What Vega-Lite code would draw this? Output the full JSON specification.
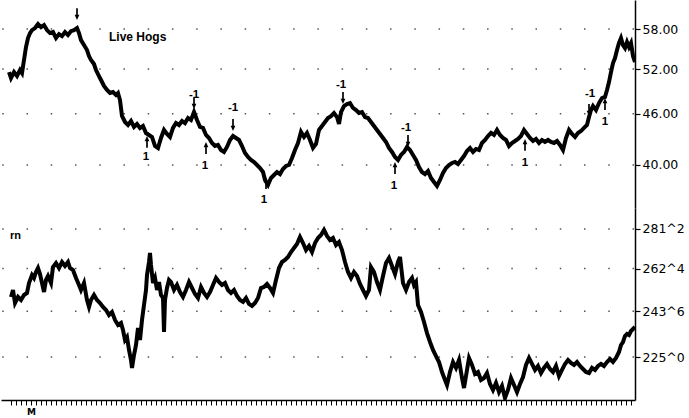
{
"$schema": "https://vega.github.io/schema/vega-lite/v6.json",
"padding": 0,
"background": "white",
"spacing": 0,
"config": {"view": {"stroke": null}, "font": "DejaVu Sans", "concat": {"spacing": 0}},
"datasets": {
"hogs": [
{"t":8,"v":51.57},{"t":10,"v":50.73},{"t":13,"v":51.57},{"t":16,"v":51.01},{"t":19,"v":51.85},{"t":21,"v":51.43},{"t":23,"v":53.29},{"t":25,"v":55.22},{"t":27,"v":56.59},{"t":29,"v":57.37},{"t":31,"v":57.84},{"t":34,"v":58.16},{"t":37,"v":58.8},{"t":40,"v":58.32},{"t":43,"v":58.64},{"t":46,"v":57.84},{"t":49,"v":57.37},{"t":52,"v":57.53},{"t":55,"v":56.59},{"t":58,"v":57.21},{"t":61,"v":56.9},{"t":64,"v":57.53},{"t":67,"v":57.06},{"t":70,"v":57.68},{"t":73,"v":57.84},{"t":76,"v":58.16},{"t":78,"v":57.37},{"t":80,"v":56.28},{"t":83,"v":55.52},{"t":86,"v":54.77},{"t":88,"v":53.88},{"t":90,"v":53.29},{"t":93,"v":52.71},{"t":95,"v":51.85},{"t":98,"v":51.01},{"t":100,"v":50.46},{"t":103,"v":49.64},{"t":106,"v":49.1},{"t":109,"v":48.7},{"t":112,"v":48.83},{"t":115,"v":48.43},{"t":117,"v":48.7},{"t":119,"v":47.77},{"t":121,"v":45.73},{"t":124,"v":44.99},{"t":127,"v":44.62},{"t":130,"v":45.11},{"t":133,"v":44.38},{"t":136,"v":44.74},{"t":139,"v":44.26},{"t":142,"v":44.5},{"t":145,"v":43.65},{"t":148,"v":43.42},{"t":151,"v":43.18},{"t":154,"v":42.13},{"t":157,"v":41.9},{"t":160,"v":43.06},{"t":163,"v":44.02},{"t":166,"v":43.54},{"t":169,"v":43.18},{"t":172,"v":44.26},{"t":175,"v":44.86},{"t":178,"v":44.62},{"t":181,"v":45.11},{"t":184,"v":44.86},{"t":187,"v":45.48},{"t":190,"v":45.23},{"t":193,"v":46.23},{"t":196,"v":45.23},{"t":199,"v":44.38},{"t":202,"v":44.26},{"t":205,"v":43.42},{"t":208,"v":43.06},{"t":211,"v":42.48},{"t":214,"v":42.13},{"t":217,"v":42.25},{"t":220,"v":41.67},{"t":223,"v":41.45},{"t":226,"v":42.02},{"t":229,"v":42.83},{"t":232,"v":43.3},{"t":235,"v":43.06},{"t":238,"v":42.83},{"t":241,"v":42.13},{"t":244,"v":41.33},{"t":247,"v":40.88},{"t":250,"v":40.55},{"t":253,"v":40.33},{"t":256,"v":40.0},{"t":259,"v":39.67},{"t":262,"v":39.24},{"t":264,"v":38.39},{"t":267,"v":37.87},{"t":270,"v":38.6},{"t":273,"v":38.92},{"t":276,"v":39.24},{"t":279,"v":39.02},{"t":282,"v":39.56},{"t":285,"v":39.89},{"t":288,"v":40.0},{"t":291,"v":40.77},{"t":294,"v":41.67},{"t":297,"v":42.48},{"t":300,"v":43.78},{"t":303,"v":43.18},{"t":306,"v":43.66},{"t":309,"v":42.83},{"t":312,"v":41.9},{"t":315,"v":42.36},{"t":318,"v":44.02},{"t":321,"v":44.5},{"t":324,"v":44.99},{"t":327,"v":45.48},{"t":330,"v":45.72},{"t":333,"v":46.11},{"t":336,"v":45.6},{"t":338,"v":44.74},{"t":340,"v":46.23},{"t":343,"v":46.99},{"t":346,"v":47.25},{"t":349,"v":47.38},{"t":352,"v":46.75},{"t":355,"v":46.49},{"t":358,"v":46.11},{"t":361,"v":46.23},{"t":364,"v":45.6},{"t":367,"v":45.48},{"t":370,"v":44.99},{"t":373,"v":44.5},{"t":376,"v":44.02},{"t":379,"v":43.54},{"t":382,"v":43.06},{"t":385,"v":42.6},{"t":388,"v":41.9},{"t":391,"v":41.45},{"t":394,"v":40.88},{"t":397,"v":40.55},{"t":400,"v":41.11},{"t":403,"v":41.45},{"t":406,"v":42.01},{"t":409,"v":41.67},{"t":412,"v":41.11},{"t":415,"v":40.55},{"t":418,"v":39.78},{"t":421,"v":39.24},{"t":424,"v":39.02},{"t":427,"v":39.35},{"t":430,"v":38.6},{"t":433,"v":38.18},{"t":436,"v":37.77},{"t":439,"v":38.39},{"t":442,"v":39.13},{"t":445,"v":39.67},{"t":448,"v":40.0},{"t":451,"v":40.22},{"t":454,"v":40.33},{"t":457,"v":40.11},{"t":460,"v":40.55},{"t":463,"v":40.99},{"t":466,"v":41.56},{"t":469,"v":41.9},{"t":472,"v":41.45},{"t":475,"v":41.79},{"t":478,"v":41.67},{"t":481,"v":42.48},{"t":484,"v":42.83},{"t":487,"v":43.3},{"t":490,"v":43.66},{"t":493,"v":43.42},{"t":496,"v":44.02},{"t":499,"v":43.42},{"t":502,"v":43.06},{"t":505,"v":42.83},{"t":508,"v":42.13},{"t":511,"v":42.48},{"t":514,"v":42.71},{"t":517,"v":42.95},{"t":520,"v":43.3},{"t":523,"v":44.02},{"t":526,"v":43.54},{"t":529,"v":43.06},{"t":532,"v":42.71},{"t":535,"v":42.95},{"t":538,"v":42.48},{"t":541,"v":42.83},{"t":544,"v":42.6},{"t":547,"v":42.83},{"t":550,"v":42.6},{"t":553,"v":42.48},{"t":556,"v":42.71},{"t":559,"v":42.25},{"t":562,"v":41.67},{"t":565,"v":43.06},{"t":568,"v":44.02},{"t":571,"v":43.54},{"t":574,"v":43.18},{"t":577,"v":43.66},{"t":580,"v":43.89},{"t":583,"v":44.26},{"t":586,"v":44.62},{"t":588,"v":45.6},{"t":590,"v":46.49},{"t":592,"v":46.99},{"t":595,"v":46.49},{"t":598,"v":47.38},{"t":601,"v":48.03},{"t":604,"v":48.17},{"t":606,"v":49.1},{"t":608,"v":50.18},{"t":610,"v":51.57},{"t":612,"v":52.86},{"t":614,"v":53.58},{"t":616,"v":54.77},{"t":618,"v":55.83},{"t":620,"v":56.59},{"t":622,"v":55.52},{"t":624,"v":55.07},{"t":626,"v":55.98},{"t":628,"v":55.22},{"t":630,"v":55.83},{"t":632,"v":53.87},{"t":634,"v":53.0}
],
"corn": [
{"t":10,"v":249.83},{"t":12,"v":252.89},{"t":14,"v":247.24},{"t":17,"v":249.83},{"t":20,"v":248.52},{"t":23,"v":250.7},{"t":26,"v":251.6},{"t":28,"v":255.99},{"t":31,"v":259.59},{"t":33,"v":258.24},{"t":35,"v":260.95},{"t":37,"v":262.78},{"t":39,"v":260.04},{"t":41,"v":255.99},{"t":43,"v":252.0},{"t":45,"v":257.34},{"t":47,"v":259.14},{"t":50,"v":255.99},{"t":52,"v":263.23},{"t":55,"v":265.08},{"t":58,"v":262.77},{"t":61,"v":265.54},{"t":64,"v":263.69},{"t":67,"v":265.54},{"t":69,"v":262.77},{"t":72,"v":261.87},{"t":75,"v":258.24},{"t":78,"v":255.11},{"t":80,"v":252.89},{"t":83,"v":255.99},{"t":86,"v":248.52},{"t":88,"v":245.51},{"t":90,"v":248.52},{"t":93,"v":250.7},{"t":96,"v":248.52},{"t":99,"v":247.24},{"t":102,"v":245.51},{"t":105,"v":244.24},{"t":108,"v":242.12},{"t":111,"v":243.38},{"t":114,"v":240.02},{"t":117,"v":237.93},{"t":120,"v":238.76},{"t":122,"v":235.87},{"t":124,"v":231.81},{"t":126,"v":233.0},{"t":128,"v":227.82},{"t":130,"v":223.86},{"t":131,"v":220.79},{"t":133,"v":225.81},{"t":135,"v":229.79},{"t":137,"v":236.68},{"t":139,"v":231.81},{"t":141,"v":240.02},{"t":143,"v":246.4},{"t":145,"v":252.89},{"t":146,"v":259.59},{"t":148,"v":265.54},{"t":149,"v":269.73},{"t":150,"v":264.15},{"t":152,"v":255.99},{"t":154,"v":258.24},{"t":156,"v":252.89},{"t":158,"v":256.44},{"t":160,"v":250.7},{"t":162,"v":249.4},{"t":163,"v":235.05},{"t":164,"v":248.52},{"t":166,"v":253.78},{"t":168,"v":257.34},{"t":170,"v":256.44},{"t":173,"v":252.89},{"t":176,"v":255.11},{"t":179,"v":252.0},{"t":182,"v":249.83},{"t":185,"v":252.89},{"t":188,"v":256.44},{"t":191,"v":253.78},{"t":194,"v":251.13},{"t":197,"v":249.4},{"t":200,"v":254.22},{"t":203,"v":251.6},{"t":206,"v":249.83},{"t":209,"v":252.0},{"t":212,"v":255.11},{"t":215,"v":258.24},{"t":218,"v":256.44},{"t":221,"v":255.11},{"t":224,"v":255.99},{"t":227,"v":252.89},{"t":230,"v":251.6},{"t":233,"v":252.89},{"t":236,"v":250.27},{"t":239,"v":248.52},{"t":242,"v":247.7},{"t":245,"v":249.4},{"t":248,"v":246.8},{"t":251,"v":245.94},{"t":254,"v":247.24},{"t":257,"v":249.4},{"t":260,"v":253.78},{"t":263,"v":254.22},{"t":266,"v":255.55},{"t":269,"v":253.78},{"t":272,"v":251.6},{"t":275,"v":257.34},{"t":278,"v":262.77},{"t":281,"v":265.54},{"t":284,"v":266.47},{"t":287,"v":267.86},{"t":290,"v":270.2},{"t":293,"v":272.09},{"t":296,"v":273.99},{"t":299,"v":277.36},{"t":302,"v":274.47},{"t":305,"v":271.15},{"t":308,"v":273.04},{"t":311,"v":270.2},{"t":314,"v":274.47},{"t":317,"v":276.88},{"t":320,"v":278.33},{"t":323,"v":280.76},{"t":326,"v":277.84},{"t":329,"v":275.91},{"t":332,"v":276.88},{"t":335,"v":273.52},{"t":338,"v":274.95},{"t":341,"v":271.15},{"t":344,"v":265.54},{"t":347,"v":260.95},{"t":350,"v":258.24},{"t":353,"v":260.95},{"t":356,"v":259.14},{"t":359,"v":255.55},{"t":362,"v":252.89},{"t":365,"v":250.27},{"t":368,"v":252.89},{"t":370,"v":263.23},{"t":373,"v":260.95},{"t":376,"v":256.44},{"t":379,"v":252.89},{"t":382,"v":259.14},{"t":385,"v":265.08},{"t":388,"v":267.4},{"t":391,"v":263.69},{"t":394,"v":260.04},{"t":397,"v":265.54},{"t":399,"v":267.86},{"t":402,"v":255.99},{"t":405,"v":252.89},{"t":408,"v":256.44},{"t":411,"v":258.24},{"t":413,"v":255.11},{"t":415,"v":256.44},{"t":417,"v":246.4},{"t":420,"v":243.38},{"t":423,"v":239.18},{"t":426,"v":234.6},{"t":429,"v":230.99},{"t":432,"v":227.82},{"t":435,"v":225.42},{"t":438,"v":223.08},{"t":441,"v":219.23},{"t":444,"v":216.19},{"t":446,"v":214.32},{"t":449,"v":219.23},{"t":452,"v":223.08},{"t":455,"v":220.79},{"t":458,"v":223.86},{"t":461,"v":216.95},{"t":463,"v":213.2},{"t":466,"v":220.0},{"t":468,"v":224.64},{"t":471,"v":221.93},{"t":474,"v":218.47},{"t":477,"v":219.23},{"t":480,"v":216.19},{"t":483,"v":216.95},{"t":486,"v":218.85},{"t":489,"v":214.7},{"t":492,"v":212.46},{"t":495,"v":215.07},{"t":498,"v":211.72},{"t":501,"v":213.95},{"t":504,"v":209.51},{"t":507,"v":212.46},{"t":510,"v":216.95},{"t":513,"v":214.32},{"t":516,"v":211.72},{"t":519,"v":214.7},{"t":522,"v":217.33},{"t":525,"v":221.93},{"t":528,"v":224.64},{"t":531,"v":222.32},{"t":534,"v":220.0},{"t":537,"v":221.55},{"t":540,"v":218.85},{"t":543,"v":220.79},{"t":546,"v":222.32},{"t":549,"v":220.38},{"t":552,"v":219.23},{"t":555,"v":221.55},{"t":558,"v":217.7},{"t":561,"v":220.0},{"t":564,"v":222.32},{"t":567,"v":223.86},{"t":570,"v":222.7},{"t":573,"v":221.93},{"t":576,"v":223.08},{"t":579,"v":221.55},{"t":582,"v":220.38},{"t":585,"v":219.23},{"t":588,"v":218.85},{"t":591,"v":220.79},{"t":594,"v":220.0},{"t":597,"v":221.55},{"t":600,"v":222.32},{"t":603,"v":221.55},{"t":606,"v":223.08},{"t":609,"v":224.26},{"t":612,"v":223.08},{"t":615,"v":224.64},{"t":618,"v":227.01},{"t":620,"v":229.79},{"t":622,"v":230.99},{"t":624,"v":233.43},{"t":626,"v":234.24},{"t":628,"v":233.83},{"t":630,"v":235.46},{"t":632,"v":236.28},{"t":634,"v":237.1}
],
"hogNotes": [
{"t":193,"v":48.43,"kind":"lab","label":"-1"},{"t":232,"v":46.74,"kind":"lab","label":"-1"},{"t":340,"v":49.77,"kind":"lab","label":"-1"},{"t":405,"v":44.26,"kind":"lab","label":"-1"},{"t":589,"v":48.56,"kind":"lab","label":"-1"},
{"t":145,"v":40.88,"kind":"lab","label":"1"},{"t":204,"v":39.89,"kind":"lab","label":"1"},{"t":263,"v":36.35,"kind":"lab","label":"1"},{"t":393,"v":37.77,"kind":"lab","label":"1"},{"t":524,"v":40.22,"kind":"lab","label":"1"},{"t":604,"v":44.99,"kind":"lab","label":"1"},
{"t":76,"v":60.43,"kind":"down","label":""},{"t":193,"v":47.38,"kind":"down","label":""},{"t":232,"v":44.62,"kind":"down","label":""},{"t":342,"v":48.04,"kind":"down","label":""},{"t":407,"v":42.71,"kind":"down","label":""},{"t":588,"v":46.49,"kind":"down","label":""},
{"t":146,"v":42.6,"kind":"up","label":""},{"t":205,"v":41.9,"kind":"up","label":""},{"t":265,"v":38.08,"kind":"up","label":""},{"t":394,"v":39.67,"kind":"up","label":""},{"t":524,"v":42.25,"kind":"up","label":""},{"t":604,"v":47.25,"kind":"up","label":""},
{"t":108,"v":56.75,"kind":"title","label":"Live Hogs"}
],
"hogGrid": [{"v":40},{"v":46},{"v":52},{"v":58}],
"cornGrid": [{"v":225},{"v":243.75},{"v":262.5},{"v":281.25}],
"cornNotes": [{"t":9,"v":277.84,"label":"rn"}]
},
"vconcat": [
{
"width": 634, "height": 208,
"layer": [
{"data": {"name": "hogGrid"},
 "mark": {"type": "rule", "color": "#555", "strokeWidth": 1.5, "strokeDash": [1.5, 22.74], "strokeDashOffset": 23.23},
 "encoding": {"y": {"field": "v", "type": "quantitative",
   "scale": {"type": "log", "domain": [35.56, 62.8], "nice": false, "zero": false},
   "axis": {"orient": "right", "values": [40, 46, 52, 58], "format": ".2f", "grid": false, "title": null,
     "domainColor": "black", "domainWidth": 1.5, "tickColor": "black", "tickSize": 5, "tickWidth": 1.2,
     "labelFontSize": 12.5, "labelColor": "black", "labelPadding": 2, "labelFont": "DejaVu Sans"}}}},
{"data": {"name": "hogs"},
 "mark": {"type": "line", "color": "black", "strokeWidth": 4, "clip": true},
 "encoding": {"x": {"field": "t", "type": "quantitative", "scale": {"domain": [0, 634], "nice": false, "zero": false}, "axis": null},
   "y": {"field": "v", "type": "quantitative"}}},
{"data": {"name": "hogNotes"}, "transform": [{"filter": "datum.kind == 'lab'"}],
 "mark": {"type": "text", "fontSize": 11.5, "fontWeight": "bold", "font": "Liberation Sans", "fill": "#000000", "align": "center", "baseline": "middle"},
 "encoding": {"x": {"field": "t", "type": "quantitative", "axis": null}, "y": {"field": "v", "type": "quantitative"}, "text": {"field": "label"}}},
{"data": {"name": "hogNotes"}, "transform": [{"filter": "datum.kind == 'title'"}],
 "mark": {"type": "text", "fontSize": 12, "fontWeight": "bold", "font": "Liberation Sans", "fill": "#000000", "align": "left", "baseline": "middle"},
 "encoding": {"x": {"field": "t", "type": "quantitative", "axis": null}, "y": {"field": "v", "type": "quantitative"}, "text": {"field": "label"}}},
{"data": {"name": "hogNotes"}, "transform": [{"filter": "datum.kind == 'down'"}],
 "mark": {"type": "point", "shape": "arrow", "filled": true, "color": "black", "size": 140, "angle": 180, "opacity": 1},
 "encoding": {"x": {"field": "t", "type": "quantitative", "axis": null}, "y": {"field": "v", "type": "quantitative"}}},
{"data": {"name": "hogNotes"}, "transform": [{"filter": "datum.kind == 'up'"}],
 "mark": {"type": "point", "shape": "arrow", "filled": true, "color": "black", "size": 140, "angle": 0, "opacity": 1},
 "encoding": {"x": {"field": "t", "type": "quantitative", "axis": null}, "y": {"field": "v", "type": "quantitative"}}}
]
},
{
"width": 634, "height": 192,
"encoding": {"x": {"field": "t", "type": "quantitative", "scale": {"domain": [0, 634], "nice": false, "zero": false},
   "axis": {"orient": "bottom", "title": null, "grid": false, "labelOverlap": false, "labelFlush": false, "labelBound": false,
     "values": [10,15,20,25,30,35,40,45,50,55,60,65,70,75,80,85,90,95,100,105,110,115,120,125,130,135,140,145,150,155,160,165,170,175,180,185,190,195,200,205,210,215,220,225,230,235,240,245,250,255,260,265,270,275,280,285,290,295,300,305,310,315,320,325,330,335,340,345,350,355,360,365,370,375,380,385,390,395,400,405,410,415,420,425,430,435,440,445,450,455,460,465,470,475,480,485,490,495,500,505,510,515,520,525,530,535,540,545,550,555,560,565,570,575,580,585,590,595,600,605,610,615,620,625,630],
     "labelExpr": "datum.value == 30 ? 'M' : ''",
     "domainColor": "black", "domainWidth": 1.5, "tickColor": "black", "tickSize": 5, "tickWidth": 1,
     "labelFontSize": 9, "labelFontWeight": "bold", "labelColor": "black", "labelPadding": 2, "labelFont": "DejaVu Sans"}}},
"layer": [
{"data": {"name": "cornGrid"},
 "mark": {"type": "rule", "color": "#555", "strokeWidth": 1.5, "strokeDash": [1.5, 22.74], "strokeDashOffset": 23.23},
 "encoding": {"x": null, "y": {"field": "v", "type": "quantitative",
   "scale": {"type": "log", "domain": [208.79, 291.73], "nice": false, "zero": false},
   "axis": {"orient": "right", "values": [225, 243.75, 262.5, 281.25],
     "labelExpr": "floor(datum.value) + '^' + round((datum.value - floor(datum.value)) * 8)",
     "grid": false, "title": null,
     "domainColor": "black", "domainWidth": 1.5, "tickColor": "black", "tickSize": 5, "tickWidth": 1.2,
     "labelFontSize": 12.5, "labelColor": "black", "labelPadding": 2, "labelFont": "DejaVu Sans"}}}},
{"data": {"name": "corn"},
 "mark": {"type": "line", "color": "black", "strokeWidth": 4, "clip": true},
 "encoding": {"y": {"field": "v", "type": "quantitative"}}},
{"data": {"name": "cornNotes"},
 "mark": {"type": "text", "fontSize": 11, "fontWeight": "bold", "font": "Liberation Sans", "fill": "#000000", "align": "left", "baseline": "middle"},
 "encoding": {"y": {"field": "v", "type": "quantitative"}, "text": {"field": "label"}}}
]
}
]
}
